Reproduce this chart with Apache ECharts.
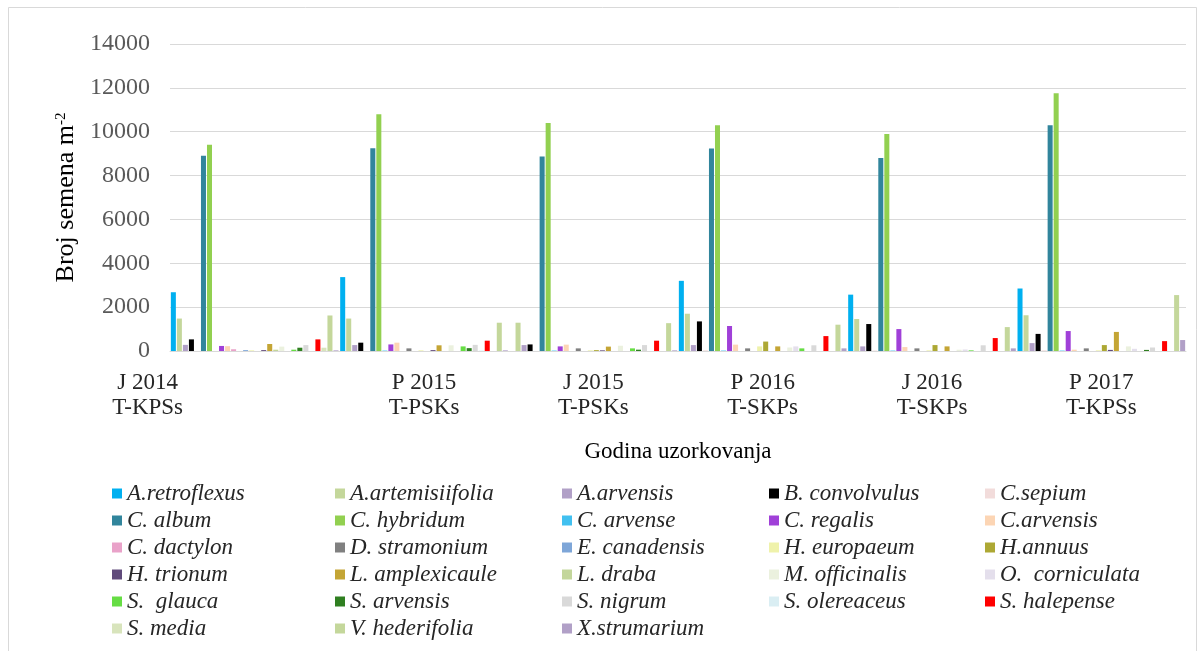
<!DOCTYPE html>
<html>
<head>
<meta charset="utf-8">
<script src="https://cdn.jsdelivr.net/npm/echarts@6/dist/echarts.min.js"></script>
<style>html,body{margin:0;padding:0;background:#fff;}#c{width:1204px;height:651px;}</style>
</head>
<body>
<div id="c"></div>
<script>
const categories = ['J 2014\nT-KPSs', 'P 2015\nT-PSKs', 'J 2015\nT-PSKs', 'P 2016\nT-SKPs', 'J 2016\nT-SKPs', 'P 2017\nT-KPSs'];
const speciesNames = ['A.retroflexus', 'A.artemisiifolia', 'A.arvensis', 'B. convolvulus', 'C.sepium',
  'C. album', 'C. hybridum', 'C. arvense', 'C. regalis', 'C.arvensis',
  'C. dactylon', 'D. stramonium', 'E. canadensis', 'H. europaeum', 'H.annuus',
  'H. trionum', 'L. amplexicaule', 'L. draba', 'M. officinalis', 'O.  corniculata',
  'S.  glauca', 'S. arvensis', 'S. nigrum', 'S. olereaceus', 'S. halepense',
  'S. media', 'V. hederifolia', 'X.strumarium'];
const speciesColors = ['#00B0F0', '#C4D79B', '#B1A0C7', '#000000', '#F2DCDB',
  '#31859C', '#92D050', '#41C0F0', '#A040D8', '#FCD5B4',
  '#E9A2C9', '#808080', '#7EA6D8', '#EFF2AB', '#ADA834',
  '#604A7B', '#C4A535', '#C3D69B', '#EBF1DE', '#E4DFEC',
  '#66DD44', '#2F7F20', '#D9D9D9', '#DAEEF3', '#FF0000',
  '#D8E4BC', '#C4D79B', '#B1A0C7'];
// values per sampling period, one entry per species (order as speciesNames)
const valuesJ2014 = [2680, 1480, 280, 530, 0, 8900, 9400, 0, 230, 220, 80, 0, 40, 30, 0, 40, 320, 60, 200, 0, 60, 150, 270, 0, 530, 150, 1620, 30];
const valuesP2015 = [3370, 1480, 270, 380, 0, 9250, 10800, 20, 300, 380, 0, 120, 0, 30, 0, 40, 260, 0, 260, 0, 210, 130, 280, 20, 470, 0, 1290, 30];
const valuesJ2015 = [0, 1290, 270, 300, 0, 8870, 10400, 20, 210, 290, 0, 120, 0, 30, 40, 30, 200, 0, 240, 0, 120, 60, 270, 0, 470, 0, 1270, 30];
const valuesP2016 = [3200, 1700, 270, 1350, 30, 9230, 10300, 20, 1140, 290, 0, 120, 0, 210, 430, 0, 210, 0, 160, 210, 120, 0, 260, 0, 680, 0, 1200, 120];
const valuesJ2016 = [2570, 1460, 210, 1230, 20, 8800, 9900, 20, 1000, 180, 0, 120, 0, 30, 270, 0, 210, 0, 60, 70, 30, 0, 260, 0, 590, 0, 1090, 120];
const valuesP2017 = [2850, 1630, 360, 780, 30, 10300, 11750, 20, 910, 60, 0, 120, 0, 30, 270, 50, 870, 0, 210, 100, 0, 50, 160, 0, 450, 0, 2550, 500];
const yTicks = { min: 0, max: 14000, interval: 2000 };

const periods = [valuesJ2014, valuesP2015, valuesJ2015, valuesP2016, valuesJ2016, valuesP2017];
const serif = '"Liberation Serif", "Times New Roman", serif';

const series = speciesNames.map((name, i) => ({
  name: name,
  type: 'bar',
  barGap: '20%',
  barCategoryGap: '1%',
  itemStyle: { color: speciesColors[i] },
  data: periods.map(p => p[i])
}));

const legendCols = [107, 330, 557, 764, 980];
const legends = legendCols.map((x, k) => ({
  orient: 'vertical',
  left: x,
  top: 475,
  icon: 'rect',
  itemWidth: 10,
  itemHeight: 10,
  itemGap: 0,
  textStyle: { fontFamily: serif, fontStyle: 'italic', fontSize: 23, color: '#262626', lineHeight: 27 },
  data: speciesNames.filter((n, i) => i % 5 === k)
}));

const chart = echarts.init(document.getElementById('c'), null, { renderer: 'canvas' });
chart.setOption({
  animation: false,
  backgroundColor: '#ffffff',
  graphic: [{
    type: 'rect', silent: true,
    shape: { x: 8.5, y: 7.5, width: 1188, height: 700 },
    style: { fill: 'none', stroke: '#D9D9D9', lineWidth: 1 }
  }],
  grid: { left: 170, right: 18, top: 44, bottom: 300, containLabel: false },
  legend: legends,
  xAxis: {
    type: 'category',
    data: categories.map((c, i) => i === 0
      ? { value: c, textStyle: { padding: [0, 214, 0, 0] } }
      : c),
    axisLine: { lineStyle: { color: '#D9D9D9', width: 1 } },
    axisTick: { show: false },
    axisLabel: { interval: 0, margin: 19, fontFamily: serif, fontSize: 23, lineHeight: 25, color: '#262626' },
    name: 'Godina uzorkovanja',
    nameLocation: 'middle',
    nameGap: 89,
    nameTextStyle: { fontFamily: serif, fontSize: 23, color: '#000' }
  },
  yAxis: {
    type: 'value',
    min: yTicks.min,
    max: yTicks.max,
    interval: yTicks.interval,
    axisLine: { show: false },
    axisTick: { show: false },
    splitLine: { lineStyle: { color: '#D9D9D9', width: 1 } },
    axisLabel: { margin: 20, fontFamily: serif, fontSize: 24, color: '#595959', formatter: v => String(v) },
    name: '{n|Broj semena m}{s|-2}',
    nameLocation: 'middle',
    nameGap: 85,
    nameRotate: 90,
    nameTextStyle: {
      rich: {
        n: { fontFamily: serif, fontSize: 26, color: '#000' },
        s: { fontFamily: serif, fontSize: 15, color: '#000', verticalAlign: 'top', padding: [0, 0, 10, 0] }
      }
    }
  },
  series: series
});
</script>
</body>
</html>
